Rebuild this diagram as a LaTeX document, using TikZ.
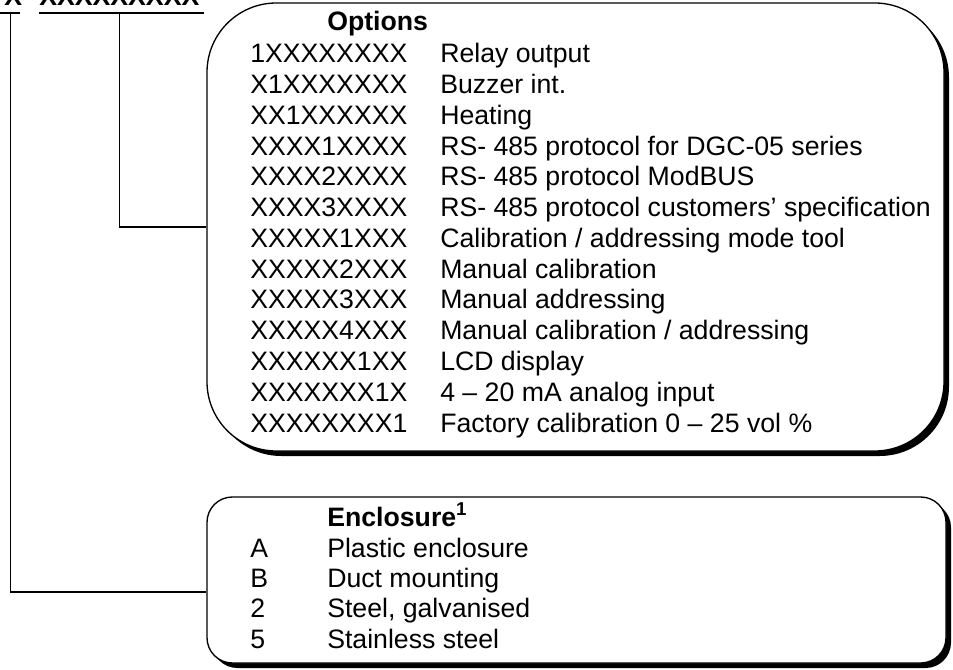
\documentclass[tikz,border=0pt]{standalone}
\usepackage{fontspec}
\setmainfont{Liberation Sans}
\usetikzlibrary{positioning,shadows}
\tikzset{optbox/.style={draw,line width=1pt,fill=white,rounded corners=#1,
drop shadow={shadow xshift=3.75pt,shadow yshift=-3.75pt,fill=black,opacity=1}},
row/.style={anchor=base west,inner sep=0pt,font=\fontsize{20}{24}\selectfont},
head/.style={row,font=\fontsize{20}{24}\selectfont\bfseries},
link/.style={line width=0.8pt}}

\begin{document}
\begin{tikzpicture}[x=0.75pt,y=-0.75pt]
    \useasboundingbox (0,0) rectangle (953,670);
    % type code
    \node[head] (enc-code) at (4,6) {X};
    \node[head] (opt-code) at (39,6) {XXXXXXXXX};
    \draw[link] ([xshift=-3pt,yshift=-5.25pt]enc-code.base west) -- ([xshift=-1.5pt,yshift=-5.25pt]enc-code.base east);
    \draw[link] ([yshift=-5.25pt]opt-code.base west) -- ([xshift=3.5pt,yshift=-5.25pt]opt-code.base east);
    \coordinate (enc-line) at ([xshift=-2pt,yshift=-5.25pt]enc-code.south);
    \coordinate (opt-line) at ([yshift=-5.25pt]opt-code.south);
    % boxes
    \node[optbox=52pt,minimum width=552.75pt,minimum height=336pt] (options) at (575.5,227) {};
    \node[optbox=19pt,minimum width=554.25pt,minimum height=124.5pt] (enclosure) at (576.5,580) {};
    % options
    \node[head] (opt-head) at (327,31) {Options};
    \foreach \code/\desc [count=\i] in {1XXXXXXXX/Relay output,
        X1XXXXXXX/Buzzer int.,
        XX1XXXXXX/Heating,
        XXXX1XXXX/RS- 485 protocol for DGC-05 series,
        XXXX2XXXX/RS- 485 protocol ModBUS,
        XXXX3XXXX/RS- 485 protocol customers’ specification,
        XXXXX1XXX/{Calibration / addressing mode tool},
        XXXXX2XXX/Manual calibration,
        XXXXX3XXX/Manual addressing,
        XXXXX4XXX/{Manual calibration / addressing},
        XXXXXX1XX/LCD display,
        XXXXXXX1X/4 – 20 mA analog input,
        XXXXXXXX1/Factory calibration 0 – 25 vol \%}{
        \node[row] (opt-code-\i) at (250,{63+30.75*(\i-1)}) {\code};
        \node[row] (opt-desc-\i) at (440,{63+30.75*(\i-1)}) {\desc};
    }
    % enclosure
    \node[head] (enc-head) at (327,526) {Enclosure\textsuperscript{1}};
    \foreach \code/\desc [count=\i] in {A/Plastic enclosure,
        B/Duct mounting,
        2/{Steel, galvanised},
        5/Stainless steel}{
        \node[row] (enc-code-\i) at (250,{557+30.4*(\i-1)}) {\code};
        \node[row] (enc-desc-\i) at (327,{557+30.4*(\i-1)}) {\desc};
    }
    % links
    \draw[link] (opt-line) |- (options.west);
    \draw[link] (enc-line) |- ([yshift=-9pt]enclosure.west);
\end{tikzpicture}
\end{document}
